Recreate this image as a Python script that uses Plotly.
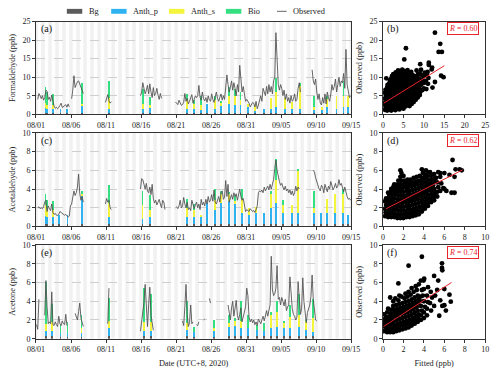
import plotly.graph_objects as go
import pandas as pd

FONT = "Liberation Serif"
W, H = 500, 372

# ---------------- data: observed (4-hourly, slots 02,06,10,14,18,22h), per day 08/01..09/14
N = None
obs_hcho = [
    [N, 4.0, 5.6, 5.0, 4.2, 5.0], [3.8, 4.5, 6.5, 6.2, 4.0, 4.6], [3.5, 5.2, 3.0, 2.2, 1.6, 1.9],
    [1.5, 1.8, 2.4, 3.0, 1.8, 2.0], [2.3, 2.6, 1.9, 2.8, 2.0, N], [4.2, 6.5, 10.4, 7.2, 8.0, 8.8],
    [9.0, 8.0, 7.0, 6.2, 5.6, N], [N] * 6, [N] * 6, [N, N, N, N, N, 3.2],
    [4.2, 5.3, 3.6, 3.0, 3.4, N], [N] * 6, [N] * 6, [N] * 6, [N, N, N, N, N, 5.0],
    [6.0, 8.5, 7.0, 5.5, 6.5, 7.8], [5.5, 8.2, 6.0, 4.5, 7.2, 5.0], [5.6, 7.0, 5.2, 4.0, 5.6, 4.3],
    [N] * 6, [N, N, N, N, N, 3.3], [3.0, 2.6, 3.8, 2.8, 2.4, 2.6], [3.2, 5.6, 3.5, 4.3, 2.8, 3.5],
    [4.6, 5.3, 3.0, 3.8, 5.0, 4.5], [5.0, 7.8, 4.6, 3.8, 6.0, 4.2], [3.6, 4.5, 3.2, 5.0, 3.8, 3.5],
    [5.5, 4.0, 3.2, 4.8, 6.0, 4.2], [3.5, 4.6, 5.5, 3.8, 5.0, 4.0], [7.5, 10.6, 8.0, 6.0, 7.2, 9.0],
    [6.5, 8.5, 7.0, 5.0, 8.0, 6.0], [13.2, 8.0, 6.0, 7.5, 5.0, 3.5], [4.0, 3.5, 3.0, 2.0, 2.5, 3.2],
    [3.0, 2.0, 3.5, 1.5, 2.5, 4.2], [5.0, 3.5, 7.0, 6.0, 5.0, 7.5], [5.5, 8.0, 6.0, 7.5, 5.5, 9.0],
    [10.0, 22.0, 12.0, 8.0, 6.5, 8.0], [7.0, 5.0, 6.5, 4.0, 5.5, 3.5], [4.5, 3.0, 5.0, 3.5, 4.0, 5.5],
    [3.5, 4.0, 7.0, 8.5, 6.0, N], [N] * 6, [N, N, 12.0, 9.0, 8.0, 9.5],
    [6.0, 4.0, 5.5, 3.0, 2.5, 4.5], [3.0, 5.5, 2.8, 6.0, 4.5, 3.5], [5.5, 8.0, 6.5, 7.5, 9.5, 6.0],
    [8.0, 10.0, 7.5, 9.0, 8.5, 11.0], [7.0, 17.5, 8.0, 6.0, 4.5, 5.0],
]
obs_acet = [
    [N, 2.0, 2.1, 1.9, 2.0, 1.9], [2.1, 2.6, 2.8, 1.6, 2.2, 1.9], [1.7, 2.4, 1.5, 1.3, 1.4, 1.2],
    [1.2, 1.3, 1.6, 1.5, 1.4, 1.3], [1.2, 1.3, 1.1, 1.0, 1.1, 2.2], [2.4, 3.0, 3.8, 3.3, 3.6, 4.2],
    [5.6, 3.5, 2.8, 3.2, 2.6, N], [N] * 6, [N] * 6, [N, N, N, N, N, 2.4],
    [3.0, 2.6, 2.8, 2.0, 1.8, N], [N] * 6, [N] * 6, [N] * 6, [N, N, N, N, N, 4.0],
    [5.1, 5.0, 4.5, 4.0, 4.6, 3.8], [3.6, 4.2, 3.4, 4.5, 3.0, 2.5], [2.8, 2.3, 2.6, 2.9, 2.4, 2.0],
    [2.8, 2.6, 1.8, N, N, N], [N, N, N, N, N, 2.0], [2.1, 1.9, 2.2, 2.8, 2.0, 2.2],
    [3.1, 2.4, 2.0, 2.6, 1.8, 2.0], [1.7, 2.8, 2.2, 1.9, 2.3, 2.6], [2.0, 2.4, 1.8, 2.9, 2.3, 2.6],
    [2.2, 2.9, 2.4, 3.2, 2.6, 2.8], [3.4, 2.7, 3.9, 2.6, 2.4, 2.9], [3.2, 2.6, 3.6, 3.8, 2.9, 3.1],
    [4.9, 3.2, 4.5, 2.6, 3.0, 3.4], [2.9, 3.6, 3.2, 3.5, 2.8, 3.4], [4.0, 3.2, 2.8, 3.0, 2.2, 1.6],
    [1.8, 1.7, 1.6, 1.9, 1.7, 1.6], [1.7, 1.5, 1.8, 2.2, 3.6, 3.8], [3.7, 3.9, 3.6, 4.2, 3.8, 4.0],
    [4.3, 3.9, 4.5, 4.0, 4.4, 5.0], [6.2, 7.1, 6.0, 5.2, 4.8, 4.4], [4.6, 4.2, 3.9, 4.3, 3.8, 4.0],
    [3.6, 3.9, 3.4, 3.8, 3.3, 3.6], [4.3, 3.8, 4.2, 4.0, N, N], [N] * 6, [N, N, N, 6.0, 5.8, 5.2],
    [4.7, 4.2, 4.0, 3.8, 4.4, 4.2], [3.6, 4.5, 4.1, 3.7, 4.3, 4.0], [4.8, 4.4, 3.9, 4.2, 4.6, 4.1],
    [4.3, 5.0, 4.4, 4.6, 4.0, 3.7], [4.2, 3.5, 3.2, 2.9, 3.0, 2.8],
]
obs_acetone = [
    [1.5, 1.0, 4.2, N, N, N], [N, 2.5, 6.2, 3.4, 1.6, 1.8], [1.6, 5.0, 1.5, 1.4, 1.8, 1.5],
    [1.3, 2.4, 1.6, 1.4, 1.9, 1.6], [1.5, 2.6, 1.4, N, N, N], [N, N, N, 2.7, 2.4, 2.0],
    [2.9, 3.8, 2.2, 1.6, 1.3, N], [N] * 6, [N] * 6, [N] * 6,
    [N, 1.6, 5.4, N, N, N], [N] * 6, [N] * 6, [N] * 6, [N, N, N, N, N, 0.8],
    [1.8, 2.8, 3.9, 5.8, 2.6, 1.3], [3.6, 5.5, 2.5, 1.4, 0.9, N], [N] * 6,
    [N] * 6, [N] * 6, [N, N, N, N, N, 1.9], [1.4, 3.4, 5.8, 2.6, 1.3, 1.7],
    [3.6, 1.6, 1.8, N, N, 1.5], [1.4, 1.8, N, N, N, 2.0], [2.1, N, N, N, 4.3, 3.8],
    [N, N, 2.7, N, N, N], [N] * 6, [N, N, 3.6, 2.7, 2.0, 3.3],
    [4.0, 2.4, 3.5, 4.1, 2.5, 2.0], [2.6, 3.3, 1.8, 2.4, 2.8, 3.4], [5.4, 4.6, 2.3, 1.8, 2.1, 1.7],
    [2.0, 1.5, 1.8, 1.4, 2.1, 1.8], [1.6, 2.0, 2.4, 1.9, 2.6, 3.0], [2.4, 3.0, 3.6, 8.8, 5.2, 4.6],
    [4.8, 5.4, 7.8, 4.2, 4.4, 3.6], [4.4, 4.0, 3.5, 4.2, 3.0, 3.4], [3.6, 6.6, 4.6, 3.2, 2.6, 2.4],
    [2.0, 2.3, 6.1, 4.0, 2.6, 3.2], [6.5, 4.0, 2.5, 1.7, 2.8, 3.1], [3.6, 4.5, 6.8, 4.2, 2.6, 2.0],
    [1.9, N, N, N, N, N], [N] * 6, [N] * 6, [N] * 6, [N] * 6,
]

# ---------------- data: source contributions (day offset from 08/01 00:00, ppb)
hcho_day = [1.35, 1.6, 2.4, 3.5, 4.4, 6.6, 10.4, 15.3, 16.3, 21.5, 22.5, 23.5, 24.4, 25.5, 26.4,
            27.5, 28.4, 29.2, 30.3, 31.3, 32.6, 33.5, 34.3, 35.6, 36.5, 37.7, 39.7, 40.8, 41.6,
            42.9, 43.9, 44.6]
hcho_bg = [0.5, 0.5, 0.5, 0.4, 0.4, 0.5, 0.5, 0.5, 0.5, 0.5, 0.5, 0.5, 0.5, 0.5, 0.5,
           0.5, 0.5, 0.5, 0.5, 0.5, 0.5, 0.5, 0.5, 0.5, 0.5, 0.5, 0.5, 0.5, 0.5, 0.5, 0.5, 0.5]
hcho_ap = [1.2, 1.0, 1.0, 1.1, 1.1, 2.0, 1.0, 1.0, 1.2, 1.0, 1.0, 0.7, 2.5, 1.0, 1.8,
           2.5, 2.0, 2.0, 1.5, 0.6, 1.0, 1.0, 1.5, 1.0, 1.0, 1.0, 1.0, 1.0, 1.5, 1.0, 1.5, 1.5]
hcho_as = [1.5, 1.2, 1.0, 0.0, 0.0, 0.5, 3.0, 1.5, 1.0, 2.5, 1.5, 1.5, 0.0, 2.5, 1.0,
           2.0, 2.5, 1.5, 1.0, 1.5, 0.0, 3.0, 4.0, 3.0, 2.0, 6.5, 0.5, 0.5, 2.5, 3.5, 3.0, 3.0]
hcho_bio = [4.3, 3.5, 3.0, 0.0, 0.0, 5.5, 4.7, 4.0, 2.0, 1.5, 1.0, 2.3, 0.0, 1.0, 0.2,
            2.5, 2.0, 2.0, 0.0, 0.0, 0.0, 0.0, 4.0, 0.0, 0.0, 0.5, 3.0, 0.0, 0.5, 0.0, 4.0, 0.0]

acet_day = [1.35, 1.6, 2.4, 3.3, 4.5, 6.6, 10.4, 15.2, 16.3, 21.5, 22.5, 23.5, 24.4, 25.5, 26.4,
            27.5, 28.4, 29.4, 30.4, 31.4, 32.6, 33.6, 34.2, 35.3, 36.5, 37.4, 39.7, 40.7, 41.6,
            42.7, 43.8, 44.6]
acet_bg = [0.3] * 32
acet_ap = [0.8, 0.7, 0.7, 1.0, 0.9, 3.0, 0.7, 0.5, 0.7, 0.7, 0.7, 0.7, 2.2, 1.5, 2.2,
           2.4, 2.2, 1.2, 0.9, 1.2, 1.2, 1.7, 2.2, 1.2, 1.2, 1.2, 1.2, 1.2, 1.2, 1.2, 1.2, 1.0]
acet_as = [1.2, 0.9, 0.8, 0.0, 0.0, 0.2, 1.5, 1.5, 0.8, 1.0, 0.8, 0.3, 0.0, 1.0, 1.0,
           0.8, 0.2, 1.5, 0.8, 0.6, 0.0, 1.5, 2.5, 0.8, 0.8, 4.5, 0.5, 0.0, 1.5, 2.0, 2.0, 0.0]
acet_bio = [1.2, 0.9, 0.9, 0.0, 0.0, 0.3, 2.0, 1.5, 1.6, 1.0, 0.6, 0.0, 0.0, 1.2, 0.3,
            0.2, 0.6, 1.0, 0.0, 0.0, 0.0, 0.3, 2.2, 0.5, 0.0, 0.2, 1.8, 0.0, 0.0, 0.0, 0.5, 0.0]

acetone_day = [1.4, 2.3, 3.5, 4.5, 6.5, 10.4, 15.4, 16.4, 21.5, 22.5, 25.4, 27.5, 28.4, 29.3,
               30.2, 31.5, 32.6, 33.6, 34.4, 35.4, 36.3, 37.5, 38.6, 39.6]
acetone_bg = [0.3, 0.3, 0.2, 0.2, 0.2, 0.3, 0.3, 0.3, 0.3, 0.2, 0.2, 0.3, 0.3, 0.3,
              0.3, 0.3, 0.3, 0.3, 0.3, 0.3, 0.3, 0.3, 0.3, 0.3]
acetone_ap = [0.5, 0.5, 0.4, 0.4, 0.4, 0.8, 0.5, 0.5, 0.6, 0.5, 0.6, 0.9, 1.1, 0.8,
              0.8, 0.6, 0.5, 0.8, 1.0, 0.8, 0.8, 1.0, 0.6, 0.4]
acetone_as = [0.8, 1.0, 0.0, 0.0, 0.5, 0.8, 1.0, 1.0, 0.8, 0.0, 0.3, 0.5, 0.5, 0.8,
              0.0, 0.0, 0.0, 1.5, 1.5, 0.6, 1.2, 1.2, 1.0, 1.5]
acetone_bio = [4.4, 1.9, 0.9, 1.2, 1.4, 2.4, 3.6, 3.0, 2.3, 0.5, 0.9, 0.8, 0.3, 2.1,
               1.4, 0.6, 0.9, 0.2, 1.2, 0.1, 1.3, 2.3, 0.1, 2.0]

# ---------------- data: scatter (fitted, observed)
scatter_b = [
    (0.5, 1.2), (0.6, 2.0), (0.4, 2.8), (0.6, 3.5), (0.5, 4.3), (0.7, 5.0), (0.5, 5.8), (0.6, 6.6), (0.8, 9.7),
    (1.0, 1.0), (1.1, 1.7), (0.9, 2.5), (1.0, 3.2), (1.1, 4.0), (0.9, 4.8), (1.0, 5.5), (1.2, 6.3), (1.0, 7.1), (1.1, 7.9),
    (1.5, 1.3), (1.4, 2.1), (1.6, 2.9), (1.5, 3.7), (1.4, 4.4), (1.6, 5.2), (1.5, 6.0), (1.4, 6.8), (1.6, 7.5), (1.5, 8.3), (1.7, 9.1),
    (2.0, 1.0), (2.1, 1.8), (1.9, 2.6), (2.0, 3.4), (2.1, 4.1), (1.9, 4.9), (2.0, 5.7), (2.2, 6.5), (2.0, 7.2), (1.9, 8.0), (2.1, 8.8), (2.0, 9.6), (2.2, 10.3),
    (2.5, 1.4), (2.4, 2.2), (2.6, 3.0), (2.5, 3.8), (2.4, 4.6), (2.6, 5.4), (2.5, 6.1), (2.4, 6.9), (2.6, 7.7), (2.5, 8.5), (2.4, 9.3), (2.6, 10.0), (2.5, 10.8),
    (3.0, 1.1), (3.1, 1.9), (2.9, 2.7), (3.0, 3.5), (3.1, 4.3), (2.9, 5.0), (3.0, 5.8), (3.1, 6.6), (2.9, 7.4), (3.0, 8.2), (3.1, 9.0), (2.9, 9.8), (3.0, 10.5), (3.1, 11.3),
    (3.5, 1.5), (3.4, 2.3), (3.6, 3.1), (3.5, 3.9), (3.4, 4.7), (3.6, 5.5), (3.5, 6.2), (3.4, 7.0), (3.6, 7.8), (3.5, 8.6), (3.4, 9.4), (3.6, 10.2), (3.5, 11.0), (3.7, 11.8),
    (4.0, 1.3), (4.1, 2.0), (3.9, 2.8), (4.0, 3.6), (4.1, 4.4), (3.9, 5.2), (4.0, 6.0), (4.1, 6.7), (3.9, 7.5), (4.0, 8.3), (4.1, 9.1), (3.9, 9.9), (4.0, 10.7), (4.1, 11.5),
    (4.5, 1.8), (4.4, 2.6), (4.6, 3.4), (4.5, 4.2), (4.4, 5.0), (4.6, 5.7), (4.5, 6.5), (4.4, 7.3), (4.6, 8.1), (4.5, 8.9), (4.4, 9.7), (4.6, 10.4), (4.5, 11.2), (4.7, 12.0),
    (5.0, 1.5), (5.1, 2.3), (4.9, 3.1), (5.0, 3.9), (5.1, 4.7), (4.9, 5.4), (5.0, 6.2), (5.1, 7.0), (4.9, 7.8), (5.0, 8.6), (5.1, 9.4), (4.9, 10.1), (5.0, 10.9), (5.1, 11.7),
    (5.5, 2.1), (5.4, 2.9), (5.6, 3.7), (5.5, 4.5), (5.4, 5.2), (5.6, 6.0), (5.5, 6.8), (5.4, 7.6), (5.6, 8.4), (5.5, 9.2), (5.4, 9.9), (5.6, 10.7), (5.5, 11.5),
    (6.0, 2.5), (6.1, 3.3), (5.9, 4.1), (6.0, 4.9), (6.1, 5.6), (5.9, 6.4), (6.0, 7.2), (6.1, 8.0), (5.9, 8.8), (6.0, 9.5), (6.1, 10.3), (5.9, 11.1), (6.0, 11.9),
    (6.5, 2.2), (6.4, 3.0), (6.6, 3.8), (6.5, 4.6), (6.4, 5.4), (6.6, 6.2), (6.5, 6.9), (6.4, 7.7), (6.6, 8.5), (6.5, 9.3), (6.4, 10.1), (6.6, 10.9),
    (7.0, 2.8), (7.1, 3.6), (6.9, 4.4), (7.0, 5.2), (7.1, 6.0), (6.9, 6.7), (7.0, 7.5), (7.1, 8.3), (6.9, 9.1), (7.0, 9.9), (7.1, 10.6), (6.9, 11.4),
    (7.5, 3.3), (7.4, 4.1), (7.6, 4.9), (7.5, 5.7), (7.4, 6.5), (7.6, 7.3), (7.5, 8.0), (7.4, 8.8), (7.6, 9.6), (7.5, 10.4),
    (8.0, 3.9), (8.1, 4.7), (7.9, 5.5), (8.0, 6.3), (8.1, 7.1), (7.9, 7.8), (8.0, 8.6), (8.1, 9.4), (7.9, 10.2), (8.2, 11.8),
    (8.5, 4.5), (8.4, 5.3), (8.6, 6.1), (8.5, 6.8), (8.4, 7.6), (8.6, 8.4), (8.5, 9.2), (8.4, 10.0), (8.6, 10.8),
    (9.0, 5.2), (9.1, 6.0), (8.9, 7.0), (9.0, 7.8), (9.1, 8.8), (8.9, 9.6), (9.0, 11.0),
    (9.6, 6.5), (9.4, 8.0), (9.5, 9.2), (9.6, 10.5), (9.3, 12.0), (10.0, 7.0), (10.1, 8.5), (9.9, 10.2), (10.2, 11.2),
    (10.6, 6.8), (10.5, 9.0), (10.7, 10.6), (11.0, 8.2), (11.1, 9.8), (10.9, 11.4), (11.2, 13.3),
    (12.7, 22.0), (14.0, 19.0), (13.6, 16.8), (14.4, 16.8), (5.6, 17.8), (5.2, 14.8), (9.1, 13.5), (11.2, 13.9),
    (12.0, 12.6), (14.2, 10.4), (14.8, 10.0), (12.7, 8.7), (12.1, 7.2), (11.9, 12.1),
]
scatter_d = [
    (0.2, 1.1), (0.25, 1.5), (0.2, 1.9), (0.3, 2.3), (0.2, 2.7), (0.3, 3.0),
    (0.5, 1.0), (0.5, 1.4), (0.6, 1.8), (0.5, 2.2), (0.4, 2.6), (0.5, 3.0), (0.6, 3.4), (0.5, 3.6),
    (0.8, 1.0), (0.8, 1.4), (0.9, 1.8), (0.8, 2.2), (0.7, 2.6), (0.8, 3.0), (0.9, 3.4), (0.8, 3.8), (0.8, 4.0),
    (1.1, 1.0), (1.1, 1.4), (1.2, 1.8), (1.1, 2.2), (1.0, 2.6), (1.1, 3.0), (1.2, 3.4), (1.1, 3.8), (1.0, 4.2), (1.1, 4.5),
    (1.4, 0.9), (1.4, 1.3), (1.5, 1.7), (1.4, 2.1), (1.3, 2.5), (1.4, 2.9), (1.5, 3.3), (1.4, 3.7), (1.3, 4.1), (1.4, 4.5), (1.5, 4.9),
    (1.7, 0.9), (1.7, 1.3), (1.8, 1.7), (1.7, 2.1), (1.6, 2.5), (1.7, 2.9), (1.8, 3.3), (1.7, 3.7), (1.6, 4.1), (1.7, 4.5), (1.8, 4.9), (1.7, 5.3), (1.7, 6.0), (1.8, 5.7),
    (2.0, 0.9), (2.0, 1.3), (2.1, 1.7), (2.0, 2.1), (1.9, 2.5), (2.0, 2.9), (2.1, 3.3), (2.0, 3.7), (1.9, 4.1), (2.0, 4.5), (2.1, 4.9), (2.0, 5.4),
    (2.3, 1.0), (2.3, 1.4), (2.4, 1.8), (2.3, 2.2), (2.2, 2.6), (2.3, 3.0), (2.4, 3.4), (2.3, 3.8), (2.2, 4.2), (2.3, 4.6), (2.4, 5.0),
    (2.6, 1.0), (2.6, 1.4), (2.7, 1.8), (2.6, 2.2), (2.5, 2.6), (2.6, 3.0), (2.7, 3.4), (2.6, 3.8), (2.5, 4.2), (2.6, 4.6), (2.7, 5.0),
    (2.9, 1.1), (2.9, 1.5), (3.0, 1.9), (2.9, 2.3), (2.8, 2.7), (2.9, 3.1), (3.0, 3.5), (2.9, 3.9), (2.8, 4.3), (2.9, 4.7), (3.0, 5.2),
    (3.2, 1.2), (3.2, 1.6), (3.3, 2.0), (3.2, 2.4), (3.1, 2.8), (3.2, 3.2), (3.3, 3.6), (3.2, 4.0), (3.1, 4.4), (3.2, 4.8), (3.3, 5.3),
    (3.5, 1.3), (3.5, 1.7), (3.6, 2.1), (3.5, 2.5), (3.4, 2.9), (3.5, 3.3), (3.6, 3.7), (3.5, 4.1), (3.4, 4.5), (3.5, 4.9), (3.6, 5.4),
    (3.8, 1.6), (3.8, 2.0), (3.9, 2.4), (3.8, 2.8), (3.7, 3.2), (3.8, 3.6), (3.9, 4.0), (3.8, 4.4), (3.7, 4.8), (3.8, 5.2), (3.9, 5.7), (3.8, 6.1),
    (4.1, 1.9), (4.1, 2.3), (4.2, 2.7), (4.1, 3.1), (4.0, 3.5), (4.1, 3.9), (4.2, 4.3), (4.1, 4.7), (4.0, 5.1), (4.1, 5.5), (4.2, 6.0),
    (4.4, 2.2), (4.4, 2.6), (4.5, 3.0), (4.4, 3.4), (4.3, 3.8), (4.4, 4.2), (4.5, 4.6), (4.4, 5.0), (4.3, 5.4), (4.4, 5.8),
    (4.7, 2.6), (4.7, 3.0), (4.8, 3.4), (4.7, 3.8), (4.6, 4.2), (4.7, 4.6), (4.8, 5.0), (4.7, 5.4), (4.6, 5.8),
    (5.0, 2.8), (5.0, 3.2), (5.1, 3.6), (5.0, 4.0), (4.9, 4.4), (5.0, 4.8), (5.1, 5.2), (5.0, 5.6),
    (5.3, 3.2), (5.3, 3.7), (5.4, 4.2), (5.3, 4.7), (5.2, 5.2), (5.4, 5.8),
    (5.6, 3.8), (5.7, 4.6), (5.6, 5.3), (5.6, 5.7), (6.0, 4.0), (5.9, 4.1), (6.2, 3.8), (6.7, 3.6), (7.0, 3.6),
    (6.0, 5.7), (6.8, 7.1), (7.1, 6.1), (7.5, 6.1), (7.0, 5.3), (7.7, 6.0), (6.5, 5.5),
]
scatter_f = [
    (0.1, 0.8), (0.15, 1.3), (0.1, 1.7), (0.2, 2.1), (0.1, 2.6),
    (0.4, 0.7), (0.4, 1.1), (0.5, 1.5), (0.4, 1.9), (0.3, 2.3), (0.4, 2.8), (0.5, 3.2),
    (0.7, 0.7), (0.7, 1.1), (0.8, 1.5), (0.7, 1.9), (0.6, 2.3), (0.7, 2.7), (0.8, 3.1), (0.7, 4.4),
    (1.0, 0.7), (1.0, 1.1), (1.1, 1.5), (1.0, 1.9), (0.9, 2.3), (1.0, 2.7), (1.1, 3.1), (1.0, 3.5), (1.0, 4.0),
    (1.3, 0.8), (1.3, 1.2), (1.4, 1.6), (1.3, 2.0), (1.2, 2.4), (1.3, 2.8), (1.4, 3.2), (1.3, 3.6), (1.2, 4.3),
    (1.6, 0.9), (1.6, 1.3), (1.7, 1.7), (1.6, 2.1), (1.5, 2.5), (1.6, 2.9), (1.7, 3.3), (1.6, 3.7), (1.5, 4.1), (1.6, 4.6), (1.5, 5.9),
    (1.9, 1.0), (1.9, 1.4), (2.0, 1.8), (1.9, 2.2), (1.8, 2.6), (1.9, 3.0), (2.0, 3.4), (1.9, 3.8), (1.8, 4.5),
    (2.2, 1.1), (2.2, 1.5), (2.3, 1.9), (2.2, 2.3), (2.1, 2.7), (2.2, 3.1), (2.3, 3.5), (2.2, 3.9), (2.1, 4.3), (2.2, 4.8),
    (2.5, 1.2), (2.5, 1.6), (2.6, 2.0), (2.5, 2.4), (2.4, 2.8), (2.5, 3.2), (2.6, 3.6), (2.5, 4.0), (2.4, 4.5), (2.5, 5.0), (2.5, 7.8),
    (2.8, 1.4), (2.8, 1.8), (2.9, 2.2), (2.8, 2.6), (2.7, 3.0), (2.8, 3.4), (2.9, 3.8), (2.8, 4.2), (2.7, 4.7), (2.8, 5.4),
    (3.1, 1.6), (3.1, 2.0), (3.2, 2.4), (3.1, 2.8), (3.0, 3.2), (3.1, 3.6), (3.2, 4.0), (3.1, 4.4), (3.0, 5.0), (3.2, 5.6),
    (3.4, 1.8), (3.4, 2.2), (3.5, 2.6), (3.4, 3.0), (3.3, 3.4), (3.4, 3.8), (3.5, 4.2), (3.4, 4.6), (3.3, 5.2), (3.5, 5.8),
    (3.7, 2.0), (3.7, 2.5), (3.8, 3.0), (3.7, 3.5), (3.6, 4.0), (3.7, 4.5), (3.8, 5.2), (3.7, 6.2), (3.8, 8.75),
    (4.0, 2.2), (4.0, 2.8), (4.1, 3.4), (4.0, 4.0), (3.9, 4.6), (4.0, 5.3), (4.03, 6.4), (3.97, 6.2),
    (4.3, 2.5), (4.3, 3.2), (4.4, 3.9), (4.3, 4.6), (4.4, 5.5),
    (4.7, 3.0), (4.6, 3.8), (4.67, 5.0), (4.8, 4.4), (5.0, 3.5), (5.1, 4.6), (5.0, 6.7), (5.4, 6.2),
    (5.5, 2.45), (5.8, 3.5), (5.77, 8.05), (5.77, 7.55), (5.8, 7.3), (6.0, 5.3), (6.0, 3.57), (6.15, 3.0),
    (6.5, 4.7), (6.63, 3.95), (5.3, 5.2), (5.6, 4.1),
]
fitline_b = ([0.2, 15.0], [3.0, 13.1])
fitline_d = ([0.3, 7.8], [1.9, 6.05])
fitline_f = ([0.05, 6.7], [1.3, 6.0])
r_values = ["0.60", "0.62", "0.74"]

species = ["Formaldehyde (ppb)", "Acetaldehyde (ppb)", "Acetone (ppb)"]
components = ["Bg", "Anth_p", "Anth_s", "Bio"]
comp_colors = ["#5b5b5b", "#2fb3f0", "#f4f43a", "#35de80"]
date_ticks = ["08/01", "08/06", "08/11", "08/16", "08/21", "08/26", "08/31", "09/05", "09/10", "09/15"]

# ---------------- layout geometry (pixels)
LX0, LX1 = 28, 355
RX0, RX1 = 388, 494
ROWS = [(18, 113), (132, 228), (247, 343)]
T0 = pd.Timestamp("2020-08-01")
T1 = pd.Timestamp("2020-09-15")
TICKFONT = dict(family=FONT, size=8, color="#222")
TITLEFONT = dict(family=FONT, size=8.3, color="#222")


def px_x(p):
    return p / W


def px_y(p):
    return 1 - p / H


fig = go.Figure()

obs_sets = [obs_hcho, obs_acet, obs_acetone]
bar_sets = [
    (hcho_day, [hcho_bg, hcho_ap, hcho_as, hcho_bio]),
    (acet_day, [acet_bg, acet_ap, acet_as, acet_bio]),
    (acetone_day, [acetone_bg, acetone_ap, acetone_as, acetone_bio]),
]
scatters = [scatter_b, scatter_d, scatter_f]
fitlines = [fitline_b, fitline_d, fitline_f]
ymax_ts = [25, 10, 10]
ydt = [5, 2, 2]
scat_max = [25, 10, 10]
labels_l = ["(a)", "(c)", "(e)"]
labels_r = ["(b)", "(d)", "(f)"]

shapes = []
annotations = []

for i in range(3):
    xl = "x%d" % (2 * i + 1) if i > 0 else "x"
    yl = "y%d" % (2 * i + 1) if i > 0 else "y"
    xr = "x%d" % (2 * i + 2)
    yr = "y%d" % (2 * i + 2)
    xl_ax = "xaxis%d" % (2 * i + 1) if i > 0 else "xaxis"
    yl_ax = "yaxis%d" % (2 * i + 1) if i > 0 else "yaxis"
    xr_ax = "xaxis%d" % (2 * i + 2)
    yr_ax = "yaxis%d" % (2 * i + 2)

    # stacked contributions
    days, comps = bar_sets[i]
    bx = [T0 + pd.Timedelta(days=d) for d in days]
    for name, vals, col in zip(components, comps, comp_colors):
        fig.add_trace(go.Bar(x=bx, y=vals, name=name, marker=dict(color=col, line=dict(width=0)),
                             width=0.13 * 86400000, xaxis=xl, yaxis=yl, showlegend=False))
    # observed
    ox, oy = [], []
    for d, row in enumerate(obs_sets[i]):
        for s, v in enumerate(row):
            ox.append(T0 + pd.Timedelta(hours=d * 24 + s * 4 + 2))
            oy.append(v)
    fig.add_trace(go.Scatter(x=ox, y=oy, mode="lines", line=dict(color="#555555", width=0.9),
                             connectgaps=False, xaxis=xl, yaxis=yl, showlegend=False))

    # scatter
    sx = [p[0] for p in scatters[i]]
    sy = [p[1] for p in scatters[i]]
    fig.add_trace(go.Scatter(x=sx, y=sy, mode="markers",
                             marker=dict(color="black", size=4.8, line=dict(width=0)),
                             xaxis=xr, yaxis=yr, showlegend=False))
    fig.add_trace(go.Scatter(x=fitlines[i][0], y=fitlines[i][1], mode="lines",
                             line=dict(color="#e8232a", width=1), xaxis=xr, yaxis=yr, showlegend=False))

    top, bot = ROWS[i]
    dom_y = [px_y(bot), px_y(top)]
    axis_common = dict(showline=True, linecolor="#333", linewidth=1, mirror=True,
                       ticks="outside", ticklen=3, tickcolor="#333", tickwidth=1,
                       tickfont=TICKFONT, zeroline=False)
    fig.update_layout(**{
        xl_ax: dict(domain=[px_x(LX0), px_x(LX1)], anchor=yl, type="date",
                    range=[T0, T1], tickvals=[T0 + pd.Timedelta(days=5 * k) for k in range(10)],
                    ticktext=date_ticks, showgrid=False, **axis_common),
        yl_ax: dict(domain=dom_y, anchor=xl, range=[0, ymax_ts[i]], dtick=ydt[i],
                    showgrid=True, gridcolor="#cfcfcf", griddash="dash", gridwidth=0.8,
                    title=dict(text=species[i], font=TITLEFONT, standoff=5),
                    **axis_common),
        xr_ax: dict(domain=[px_x(RX0), px_x(RX1)], anchor=yr, range=[0, scat_max[i]], dtick=ydt[i],
                    showgrid=False, **axis_common),
        yr_ax: dict(domain=dom_y, anchor=xr, range=[0, scat_max[i]], dtick=ydt[i], showgrid=False,
                    title=dict(text="Observed (ppb)", font=TITLEFONT, standoff=5),
                    **axis_common),
    })

    # night shading stripes
    for d in range(45):
        s0 = T0 + pd.Timedelta(hours=d * 24 + 18)
        s1 = min(T0 + pd.Timedelta(hours=d * 24 + 30), T1)
        if s0 >= T1:
            continue
        shapes.append(dict(type="rect", xref=xl, yref=yl + " domain", x0=s0, x1=s1, y0=0, y1=1,
                           fillcolor="#f1f1f1", line=dict(width=0), layer="below"))
    shapes.append(dict(type="rect", xref=xl, yref=yl + " domain", x0=T0, x1=T0 + pd.Timedelta(hours=6),
                       y0=0, y1=1, fillcolor="#f1f1f1", line=dict(width=0), layer="below"))

    annotations.append(dict(text=labels_l[i], x=px_x(LX0 + 3), y=px_y(top + 8), xref="paper", yref="paper",
                            xanchor="left", yanchor="middle", showarrow=False,
                            font=dict(family=FONT, size=10, color="#111")))
    annotations.append(dict(text=labels_r[i], x=px_x(RX0 + 2), y=px_y(top + 8), xref="paper", yref="paper",
                            xanchor="left", yanchor="middle", showarrow=False,
                            font=dict(family=FONT, size=10, color="#111")))
    annotations.append(dict(text="<i>R</i> = " + r_values[i], x=px_x(RX1 - 6), y=px_y(top + 7.5),
                            xref="paper", yref="paper", xanchor="right", yanchor="middle", showarrow=False,
                            font=dict(family=FONT, size=8, color="#e8232a"),
                            bordercolor="#e8232a", borderwidth=1, borderpad=1, bgcolor="white"))

fig.update_layout(xaxis5=dict(title=dict(text="Date (UTC+8, 2020)", font=TITLEFONT, standoff=6)),
                  xaxis6=dict(title=dict(text="Fitted (ppb)", font=TITLEFONT, standoff=6)))

# manual legend
leg_items = [("Bg", 60), ("Anth_p", 106), ("Anth_s", 166), ("Bio", 225)]
for (name, x0), col in zip(leg_items, comp_colors):
    shapes.append(dict(type="rect", xref="paper", yref="paper", x0=px_x(x0), x1=px_x(x0 + 16),
                       y0=px_y(10), y1=px_y(5), fillcolor=col, line=dict(width=0)))
    annotations.append(dict(text=name, x=px_x(x0 + 21), y=px_y(7.5), xref="paper", yref="paper",
                            xanchor="left", yanchor="middle", showarrow=False,
                            font=dict(family=FONT, size=8.3, color="#222")))
shapes.append(dict(type="line", xref="paper", yref="paper", x0=px_x(278), x1=px_x(288),
                   y0=px_y(7.5), y1=px_y(7.5), line=dict(color="#666", width=1)))
annotations.append(dict(text="Observed", x=px_x(293), y=px_y(7.5), xref="paper", yref="paper",
                        xanchor="left", yanchor="middle", showarrow=False,
                        font=dict(family=FONT, size=8.3, color="#222")))

fig.update_layout(width=W, height=H, margin=dict(l=0, r=0, t=0, b=0), barmode="stack", bargap=0,
                  paper_bgcolor="white", plot_bgcolor="white", shapes=shapes, annotations=annotations,
                  showlegend=False, font=dict(family=FONT))

fig.write_html("out.html")
